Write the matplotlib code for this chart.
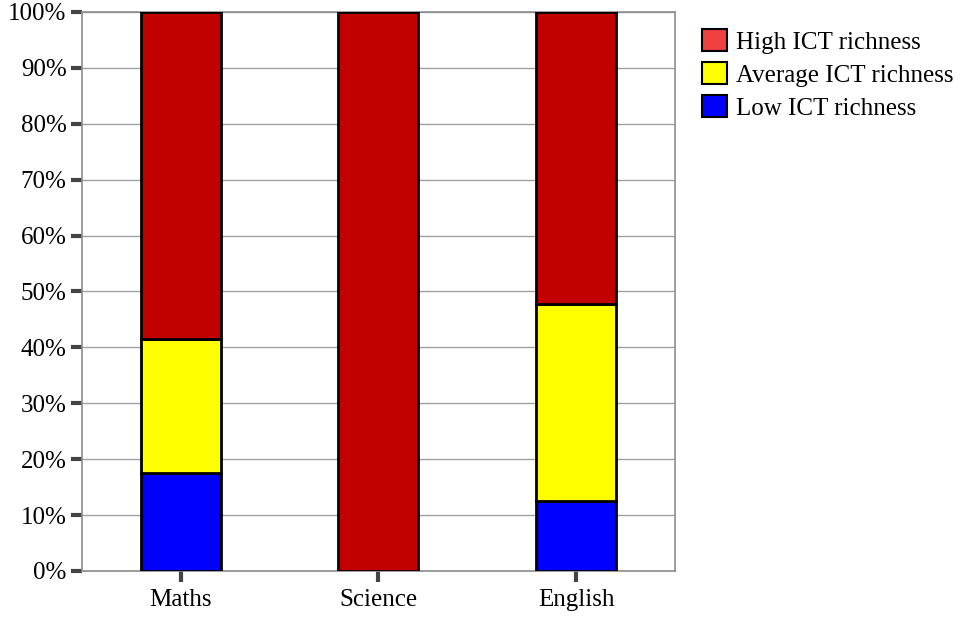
import numpy as np
import matplotlib.pyplot as plt
from matplotlib.patches import Patch

plt.rcParams['font.family'] = ['Liberation Serif', 'DejaVu Serif']

subjects = ['Maths', 'Science', 'English']
low = [17.5, 0.0, 12.5]
average = [24.0, 0.0, 35.2]
high = [58.5, 100.0, 52.3]
yticks = list(range(0, 101, 10))

fig = plt.figure(figsize=(9.64, 6.17), dpi=100)
ax = fig.add_axes([0.085, 0.0746, 0.615, 0.906])

x = np.arange(len(subjects))
w = 0.405
low = np.array(low)
average = np.array(average)
high = np.array(high)

ax.bar(x, low, w, color='#0000ff', edgecolor='black', linewidth=2, zorder=3)
ax.bar(x, average, w, bottom=low, color='#ffff00', edgecolor='black', linewidth=2, zorder=3)
ax.bar(x, high, w, bottom=low + average, color='#c20000', edgecolor='black', linewidth=2, zorder=3)

ax.set_xlim(-0.5, 2.5)
ax.set_ylim(0, 100)
ax.set_yticks(yticks)
ax.set_yticklabels([f'{t}%' for t in yticks])
ax.set_xticks(x)
ax.set_xticklabels(subjects)
ax.yaxis.grid(True, color='#a0a0a0', linewidth=1, zorder=0)
ax.set_axisbelow(True)
for s in ax.spines.values():
    s.set_color('#8c8c8c')
    s.set_linewidth(1.2)
ax.tick_params(axis='both', direction='out', length=8, width=3, color='#444444',
               labelsize=18, pad=3)
ax.tick_params(axis='x', pad=5)

handles = [Patch(facecolor='#f04040', edgecolor='black', linewidth=1.5, label='High ICT richness'),
           Patch(facecolor='#ffff00', edgecolor='black', linewidth=1.5, label='Average ICT richness'),
           Patch(facecolor='#0000ff', edgecolor='black', linewidth=1.5, label='Low ICT richness')]
fig.legend(handles=handles, loc='upper left', bbox_to_anchor=(0.728, 0.953), frameon=False,
           fontsize=18, handlelength=1.0, handleheight=1.0, handletextpad=0.36, labelspacing=0.33,
           borderpad=0, borderaxespad=0)

fig.savefig('out.png', dpi=100)
